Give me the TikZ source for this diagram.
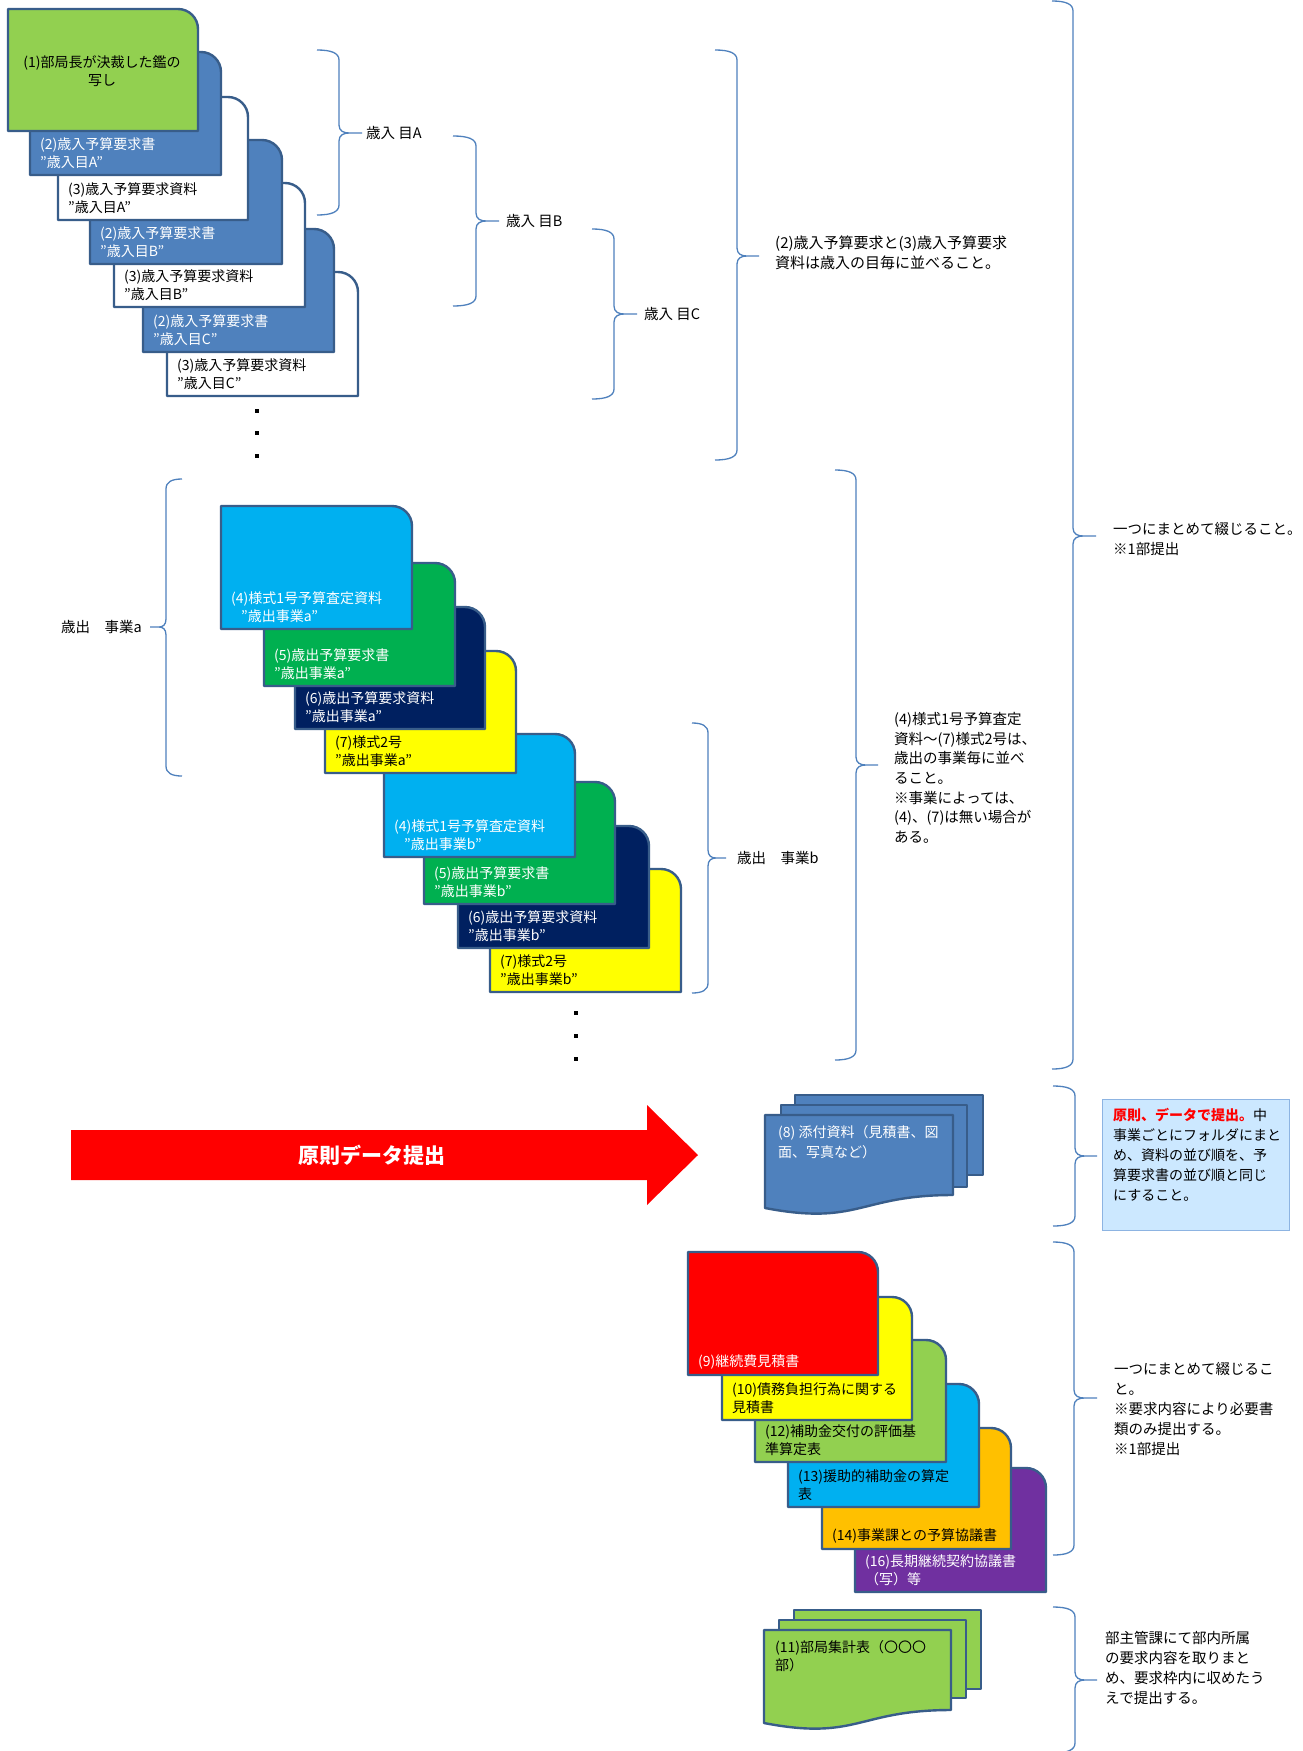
\documentclass[tikz,border=0pt]{standalone}
\usepackage{fontspec}
\setmainfont{Noto Sans CJK JP}
\definecolor{cborder}{HTML}{385D8A}
\definecolor{bbrace}{HTML}{4F81BD}
\definecolor{cblue}{HTML}{4F81BD}
\definecolor{cgreenl}{HTML}{92D050}
\definecolor{ccyan}{HTML}{00B0F0}
\definecolor{cgreen}{HTML}{00B050}
\definecolor{cnavy}{HTML}{002060}
\definecolor{cyellow}{HTML}{FFFF00}
\definecolor{cred}{HTML}{FF0000}
\definecolor{corange}{HTML}{FFC000}
\definecolor{cpurple}{HTML}{7030A0}
\definecolor{boxfill}{HTML}{CCE8FF}
\definecolor{boxborder}{HTML}{8DB4E2}
\newcommand\cardshape[5]{\draw[cardline, fill=#5] (#1,#4) -- (#1,#2) -- ({#3-20},#2) .. controls ({#3-8.95},#2) and (#3,{#2+8.95}) .. (#3,{#2+20}) -- (#3,#4) -- cycle;}
\newcommand\cardtext[5]{\node[cardtxt, text=#4, anchor=south west] (#1) at ({#2+10},{#3-6}) {#5};}
\newcommand\mybrace[6]{\draw[bracel] (#1,#4) .. controls ({#2+0.35*(#1-#2)},#4) and (#2,{#4+3}) .. (#2,{#4+10}) -- (#2,{#5-8}) .. controls (#2,{#5-2}) and ({#2+0.2*(#3-#2)},#5) .. ({#2+0.45*(#3-#2)},#5) -- (#3,#5) -- ({#2+0.45*(#3-#2)},#5) .. controls ({#2+0.2*(#3-#2)},#5) and (#2,{#5+2}) .. (#2,{#5+8}) -- (#2,{#6-10}) .. controls (#2,{#6-3}) and ({#2+0.35*(#1-#2)},#6) .. (#1,#6);}
\begin{document}
\begin{tikzpicture}[x=1pt,y=-1pt,
  cardline/.style={draw=cborder, line width=2.4pt, line join=round},
  bracel/.style={draw=bbrace, line width=1.3pt},
  cardtxt/.style={inner sep=0pt, align=left, font=\fontsize{14}{18.3}\selectfont},
  notetxt/.style={inner sep=0pt, align=left, anchor=north west, font=\fontsize{14.5}{20}\selectfont},
  lbl/.style={inner sep=0pt, font=\fontsize{14.5}{18}\selectfont},
  dotsq/.style={fill=black}]
\useasboundingbox (0,0) rectangle (1302,1751);
\fill[white] (0,0) rectangle (1302,1751);

% ---------- revenue cards ----------
\cardshape{167}{272}{358}{396}{white}
\cardtext{t3c}{167}{396}{black}{(3)歳入予算要求資料\\”歳入目C”}
\cardshape{143}{229}{334}{352}{cblue}
\cardtext{t2c}{143}{352}{white}{(2)歳入予算要求書\\”歳入目C”}
\cardshape{114}{183}{305}{307}{white}
\cardtext{t3b}{114}{307}{black}{(3)歳入予算要求資料\\”歳入目B”}
\cardshape{90}{140}{282}{264}{cblue}
\cardtext{t2b}{90}{264}{white}{(2)歳入予算要求書\\”歳入目B”}
\cardshape{58}{97}{248}{220}{white}
\cardtext{t3a}{58}{220}{black}{(3)歳入予算要求資料\\”歳入目A”}
\cardshape{30}{52}{221}{175}{cblue}
\cardtext{t2a}{30}{175}{white}{(2)歳入予算要求書\\”歳入目A”}
\cardshape{8}{9}{198}{131}{cgreenl}
\node[cardtxt, align=center, anchor=center] (t1) at (102,71) {(1)部局長が決裁した鑑の\\写し};

\fill[dotsq] (255,409) rectangle (259,413);
\fill[dotsq] (255,431) rectangle (259,435);
\fill[dotsq] (255,454) rectangle (259,458);

% braces revenue
\mybrace{317}{339}{362}{50}{133}{215}
\node[lbl, anchor=west] (lA) at (366,133) {歳入 目A};
\mybrace{453}{476}{499}{136}{221}{306}
\node[lbl, anchor=west] (lB) at (506,221) {歳入 目B};
\mybrace{592}{614}{637}{229}{314}{399}
\node[lbl, anchor=west] (lC) at (644,314) {歳入 目C};
\mybrace{715}{737}{759}{50}{256}{460}
\node[notetxt, font=\fontsize{15}{20}\selectfont] (n23) at (775,236) {(2)歳入予算要求と(3)歳入予算要求\\資料は歳入の目毎に並べること。};

\mybrace{1052}{1073}{1096}{1}{536}{1069}
\node[notetxt] (nall) at (1113,522) {一つにまとめて綴じること。\\※1部提出};

% ---------- expenditure cards ----------
\cardshape{490}{869}{681}{992}{cyellow}
\cardtext{b7}{490}{992}{black}{(7)様式2号\\”歳出事業b”}
\cardshape{458}{826}{649}{948}{cnavy}
\cardtext{b6}{458}{948}{white}{(6)歳出予算要求資料\\”歳出事業b”}
\cardshape{424}{782}{615}{904}{cgreen}
\cardtext{b5}{424}{904}{white}{(5)歳出予算要求書\\”歳出事業b”}
\cardshape{384}{734}{575}{857}{ccyan}
\cardtext{b4}{384}{857}{white}{(4)様式1号予算査定資料\\\hspace{10pt}”歳出事業b”}
\cardshape{325}{651}{516}{773}{cyellow}
\cardtext{a7}{325}{773}{black}{(7)様式2号\\”歳出事業a”}
\cardshape{295}{607}{485}{729}{cnavy}
\cardtext{a6}{295}{729}{white}{(6)歳出予算要求資料\\”歳出事業a”}
\cardshape{264}{563}{455}{686}{cgreen}
\cardtext{a5}{264}{686}{white}{(5)歳出予算要求書\\”歳出事業a”}
\cardshape{221}{506}{412}{629}{ccyan}
\cardtext{a4}{221}{629}{white}{(4)様式1号予算査定資料\\\hspace{10pt}”歳出事業a”}

\fill[dotsq] (574,1011) rectangle (578,1015);
\fill[dotsq] (574,1034) rectangle (578,1038);
\fill[dotsq] (574,1057) rectangle (578,1061);

\mybrace{182}{166}{150}{479}{627}{776}
\node[lbl, anchor=east] (la) at (142,627) {歳出　事業a};
\mybrace{692}{708}{726}{723}{858}{993}
\node[lbl, anchor=west] (lb) at (737,858) {歳出　事業b};
\mybrace{835}{856}{878}{470}{765}{1060}
\node[notetxt, font=\fontsize{14.5}{19.7}\selectfont] (n47) at (894,712) {(4)様式1号予算査定\\資料～(7)様式2号は、\\歳出の事業毎に並べ\\ること。\\※事業によっては、\\(4)、(7)は無い場合が\\ある。};

% ---------- data arrow ----------
\fill[cred] (71,1130) -- (647,1130) -- (647,1105) -- (698,1155) -- (647,1205) -- (647,1180) -- (71,1180) -- cycle;
\node[inner sep=0pt, text=white, font=\fontsize{21}{24}\selectfont\bfseries] (arr) at (372,1155) {原則データ提出};

% (8) attachments
\draw[cardline, fill=cblue] (795,1095) rectangle (983,1175);
\draw[cardline, fill=cblue] (781,1105) rectangle (967,1187);
\draw[cardline, fill=cblue] (765,1115) -- (953,1115) -- (953,1195) .. controls (859,1195) and (859,1226) .. (765,1208) -- cycle;
\node[notetxt, text=white, font=\fontsize{14}{20}\selectfont] (t8) at (778,1125) {(8) 添付資料（見積書、図\\面、写真など）};

\mybrace{1053}{1075}{1097}{1086}{1156}{1226}
\node[draw=boxborder, fill=boxfill, line width=1.2pt, minimum width=187pt, minimum height=131pt, inner sep=0pt, anchor=north west] (bx) at (1102,1099) {};
\node[notetxt, font=\fontsize{14}{20}\selectfont] (bxt) at (1113,1108) {\textcolor{cred}{\bfseries 原則、データで提出。}中\\事業ごとにフォルダにまと\\め、資料の並び順を、予\\算要求書の並び順と同じ\\にすること。};

% ---------- other documents ----------
\cardshape{855}{1468}{1046}{1592}{cpurple}
\cardtext{c16}{855}{1592}{white}{(16)長期継続契約協議書\\（写）等}
\cardshape{822}{1428}{1011}{1549}{corange}
\cardtext{c14}{822}{1549}{black}{(14)事業課との予算協議書}
\cardshape{788}{1384}{979}{1507}{ccyan}
\cardtext{c13}{788}{1507}{black}{(13)援助的補助金の算定\\表}
\cardshape{755}{1340}{946}{1462}{cgreenl}
\cardtext{c12}{755}{1462}{black}{(12)補助金交付の評価基\\準算定表}
\cardshape{722}{1297}{912}{1420}{cyellow}
\cardtext{c10}{722}{1420}{black}{(10)債務負担行為に関する\\見積書}
\cardshape{688}{1252}{878}{1375}{cred}
\cardtext{c9}{688}{1375}{white}{(9)継続費見積書}

\mybrace{1053}{1074}{1097}{1242}{1398}{1555}
\node[notetxt] (n916) at (1114,1362) {一つにまとめて綴じるこ\\と。\\※要求内容により必要書\\類のみ提出する。\\※1部提出};

% (11) summary
\draw[cardline, fill=cgreenl] (794,1610) rectangle (981,1689);
\draw[cardline, fill=cgreenl] (779,1620) rectangle (966,1698);
\draw[cardline, fill=cgreenl] (764,1630) -- (951,1630) -- (951,1710) .. controls (857.5,1710) and (857.5,1741) .. (764,1723) -- cycle;
\node[notetxt, font=\fontsize{14}{18}\selectfont] (t11) at (775,1640) {(11)部局集計表（〇〇〇\\部）};

\mybrace{1053}{1075}{1097}{1607}{1680}{1753}
\node[notetxt] (n11) at (1105,1631) {部主管課にて部内所属\\の要求内容を取りまと\\め、要求枠内に収めたう\\えで提出する。};
\end{tikzpicture}
\end{document}
